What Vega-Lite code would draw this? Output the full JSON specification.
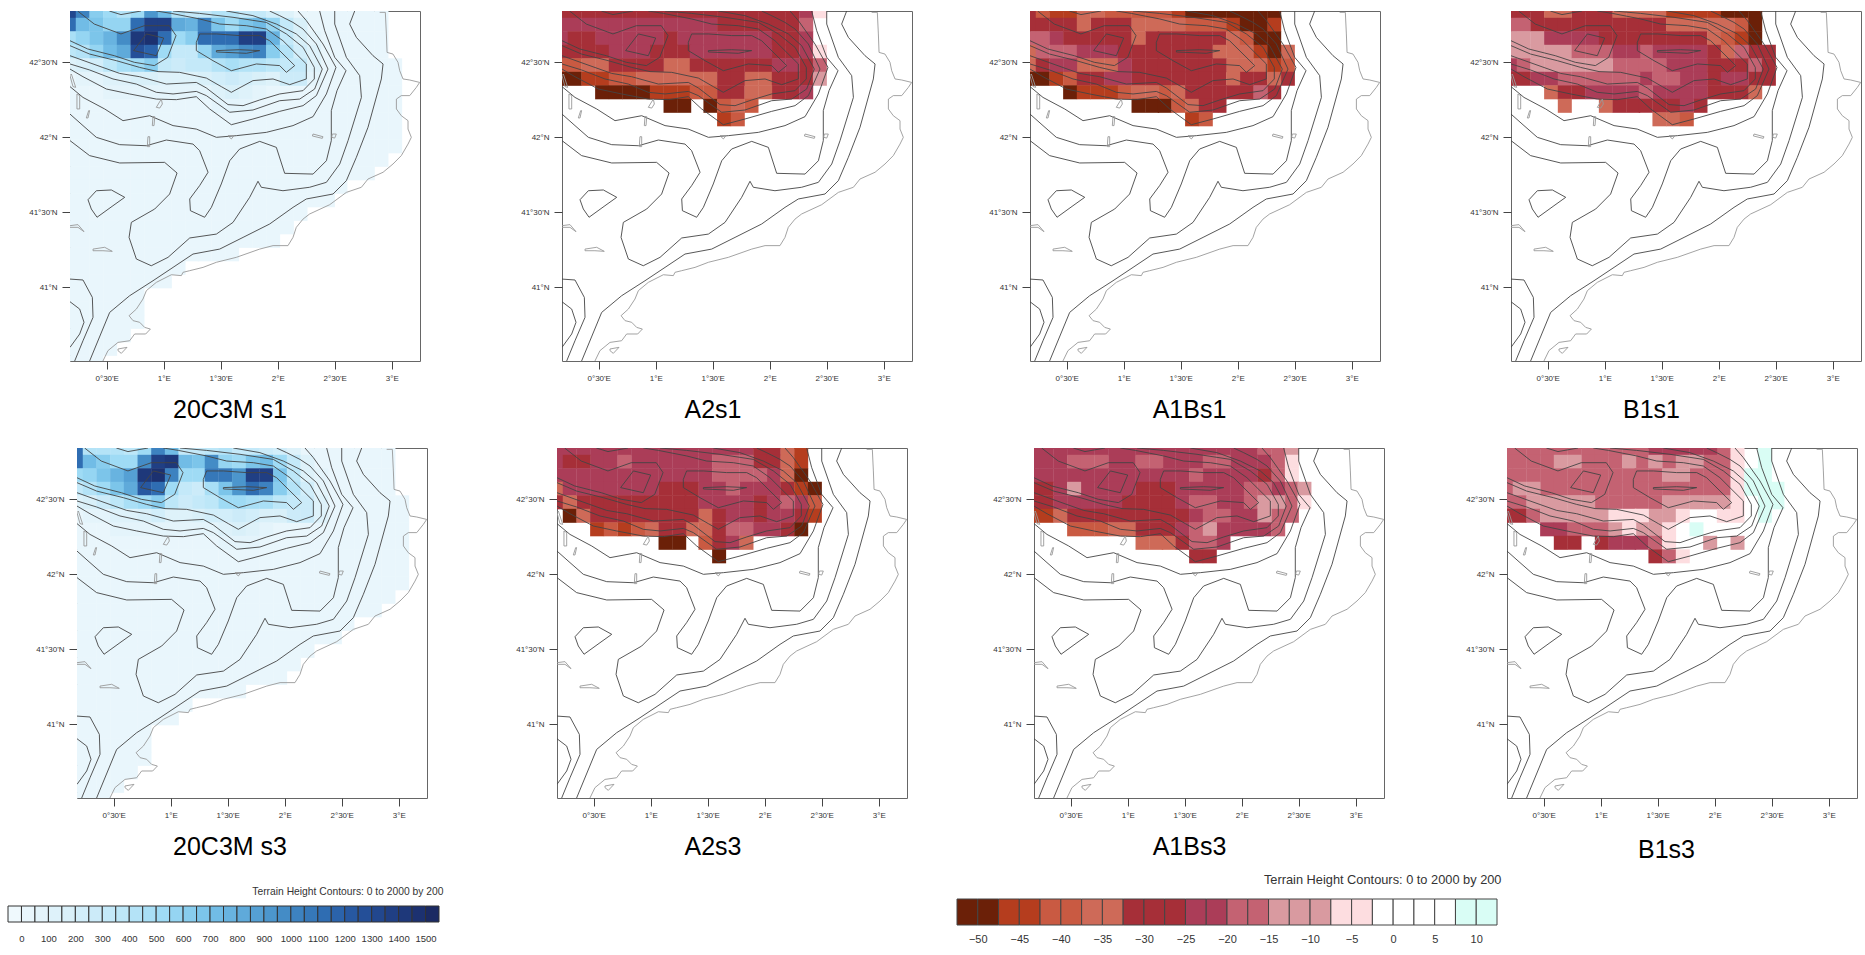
{
"$schema":"https://vega.github.io/schema/vega-lite/v6.json",
"padding":{"left":0,"top":10,"right":0,"bottom":0},
"background":"white",
"config":{"legend":{"disable":true},"view":{"stroke":"#666"},"axis":{"grid":false,"domain":false,"tickColor":"#444","labelColor":"#333","labelFont":"Liberation Sans","labelFontSize":8,"tickSize":8,"labelPadding":5,"titleFont":"Liberation Sans","titleFontSize":25,"titleFontWeight":"normal","titleColor":"#000"}},
"datasets":{
"land":[
{"lat":42.84,"lon":[0.17,0.29,0.41,0.53,0.65,0.77,0.89,1.01,1.13,1.25,1.36,1.48,1.6,1.72,1.84,1.96,2.08,2.2,2.32,2.44,2.55,2.67,2.79,2.91]},
{"lat":42.75,"lon":[0.17,0.29,0.41,0.53,0.65,0.77,0.89,1.01,1.13,1.25,1.36,1.48,1.6,1.72,1.84,1.96,2.08,2.2,2.32,2.44,2.55,2.67,2.79,2.91]},
{"lat":42.66,"lon":[0.17,0.29,0.41,0.53,0.65,0.77,0.89,1.01,1.13,1.25,1.36,1.48,1.6,1.72,1.84,1.96,2.08,2.2,2.32,2.44,2.55,2.67,2.79,2.91]},
{"lat":42.57,"lon":[0.17,0.29,0.41,0.53,0.65,0.77,0.89,1.01,1.13,1.25,1.36,1.48,1.6,1.72,1.84,1.96,2.08,2.2,2.32,2.44,2.55,2.67,2.79,2.91]},
{"lat":42.48,"lon":[0.17,0.29,0.41,0.53,0.65,0.77,0.89,1.01,1.13,1.25,1.36,1.48,1.6,1.72,1.84,1.96,2.08,2.2,2.32,2.44,2.55,2.67,2.79,2.91,3.03]},
{"lat":42.39,"lon":[0.17,0.29,0.41,0.53,0.65,0.77,0.89,1.01,1.13,1.25,1.36,1.48,1.6,1.72,1.84,1.96,2.08,2.2,2.32,2.44,2.55,2.67,2.79,2.91,3.03]},
{"lat":42.3,"lon":[0.17,0.29,0.41,0.53,0.65,0.77,0.89,1.01,1.13,1.25,1.36,1.48,1.6,1.72,1.84,1.96,2.08,2.2,2.32,2.44,2.55,2.67,2.79,2.91,3.03]},
{"lat":42.21,"lon":[0.17,0.29,0.41,0.53,0.65,0.77,0.89,1.01,1.13,1.25,1.36,1.48,1.6,1.72,1.84,1.96,2.08,2.2,2.32,2.44,2.55,2.67,2.79,2.91,3.03]},
{"lat":42.12,"lon":[0.17,0.29,0.41,0.53,0.65,0.77,0.89,1.01,1.13,1.25,1.36,1.48,1.6,1.72,1.84,1.96,2.08,2.2,2.32,2.44,2.55,2.67,2.79,2.91,3.03]},
{"lat":42.03,"lon":[0.17,0.29,0.41,0.53,0.65,0.77,0.89,1.01,1.13,1.25,1.36,1.48,1.6,1.72,1.84,1.96,2.08,2.2,2.32,2.44,2.55,2.67,2.79,2.91,3.03]},
{"lat":41.94,"lon":[0.17,0.29,0.41,0.53,0.65,0.77,0.89,1.01,1.13,1.25,1.36,1.48,1.6,1.72,1.84,1.96,2.08,2.2,2.32,2.44,2.55,2.67,2.79,2.91,3.03]},
{"lat":41.85,"lon":[0.17,0.29,0.41,0.53,0.65,0.77,0.89,1.01,1.13,1.25,1.36,1.48,1.6,1.72,1.84,1.96,2.08,2.2,2.32,2.44,2.55,2.67,2.79,2.91]},
{"lat":41.76,"lon":[0.17,0.29,0.41,0.53,0.65,0.77,0.89,1.01,1.13,1.25,1.36,1.48,1.6,1.72,1.84,1.96,2.08,2.2,2.32,2.44,2.55,2.67,2.79]},
{"lat":41.67,"lon":[0.17,0.29,0.41,0.53,0.65,0.77,0.89,1.01,1.13,1.25,1.36,1.48,1.6,1.72,1.84,1.96,2.08,2.2,2.32,2.44,2.55]},
{"lat":41.58,"lon":[0.17,0.29,0.41,0.53,0.65,0.77,0.89,1.01,1.13,1.25,1.36,1.48,1.6,1.72,1.84,1.96,2.08,2.2,2.32,2.44]},
{"lat":41.49,"lon":[0.17,0.29,0.41,0.53,0.65,0.77,0.89,1.01,1.13,1.25,1.36,1.48,1.6,1.72,1.84,1.96,2.08,2.2]},
{"lat":41.4,"lon":[0.17,0.29,0.41,0.53,0.65,0.77,0.89,1.01,1.13,1.25,1.36,1.48,1.6,1.72,1.84,1.96,2.08]},
{"lat":41.31,"lon":[0.17,0.29,0.41,0.53,0.65,0.77,0.89,1.01,1.13,1.25,1.36,1.48,1.6,1.72,1.84,1.96]},
{"lat":41.22,"lon":[0.17,0.29,0.41,0.53,0.65,0.77,0.89,1.01,1.13,1.25,1.36,1.48,1.6]},
{"lat":41.13,"lon":[0.17,0.29,0.41,0.53,0.65,0.77,0.89,1.01,1.13]},
{"lat":41.04,"lon":[0.17,0.29,0.41,0.53,0.65,0.77,0.89,1.01]},
{"lat":40.95,"lon":[0.17,0.29,0.41,0.53,0.65,0.77]},
{"lat":40.86,"lon":[0.17,0.29,0.41,0.53,0.65,0.77]},
{"lat":40.77,"lon":[0.17,0.29,0.41,0.53,0.65,0.77]},
{"lat":40.68,"lon":[0.17,0.29,0.41,0.53,0.65]},
{"lat":40.59,"lon":[0.17,0.29,0.41,0.53]},
{"lat":40.5,"lon":[0.17,0.29,0.41]}
],
"s1":[
{"lat":42.84,"lon":[0.17,0.29,0.41,0.53,0.65,0.77,0.89,1.01,1.13,1.25,1.36,1.48,1.6,1.72,1.84,1.96,2.08],"v":[1300,1000,600,500,400,500,900,700,400,300,300,400,400,300,300,200,100]},
{"lat":42.75,"lon":[0.17,0.29,0.41,0.53,0.65,0.77,0.89,1.01,1.13,1.25,1.36,1.48,1.6,1.72,1.84,1.96,2.08,2.2],"v":[1100,700,650,550,550,1100,1350,1350,800,750,1000,650,500,650,700,550,300,150]},
{"lat":42.66,"lon":[0.17,0.29,0.41,0.53,0.65,0.77,0.89,1.01,1.13,1.25,1.36,1.48,1.6,1.72,1.84,1.96,2.08,2.2,2.32],"v":[450,550,650,750,950,1400,1450,1100,500,600,1100,1100,1100,1350,1350,750,300,150,50]},
{"lat":42.57,"lon":[0.17,0.29,0.41,0.53,0.65,0.77,0.89,1.01,1.13,1.25,1.36,1.48,1.6,1.72,1.84,1.96,2.08,2.2,2.32],"v":[350,400,550,700,800,1250,1150,500,300,300,550,800,850,950,1000,600,400,200,100]},
{"lat":42.48,"lon":[0.17,0.29,0.41,0.53,0.65,0.77,0.89,1.01,1.13,1.25,1.36,1.48,1.6,1.72,1.84,1.96,2.08,2.2,2.32],"v":[100,150,200,350,450,500,600,300,250,300,300,400,450,400,400,350,300,300,100]},
{"lat":42.39,"lon":[0.29,0.41,0.53,0.65,0.77,0.89,1.01,1.13,1.25,1.36,1.48,1.6,1.72,1.84,1.96,2.08,2.2,2.32],"v":[50,50,100,100,150,150,100,100,100,150,200,250,200,150,100,250,250,50]},
{"lat":42.3,"lon":[0.53,0.65,0.77,0.89,1.01,1.13,1.25,1.36,1.48,1.6,1.72,1.84],"v":[50,50,50,50,50,50,50,50,100,150,100,50]},
{"lat":42.21,"lon":[1.48,1.6,1.72],"v":[50,50,50]}
],
"s3":[
{"lat":42.84,"lon":[0.17,0.29,0.41,0.53,0.65,0.77,0.89,1.01,1.13,1.25,1.36,1.48,1.6,1.72,1.84,1.96,2.08],"v":[1100,400,400,400,350,500,1000,700,300,300,350,400,300,300,250,200,100]},
{"lat":42.75,"lon":[0.17,0.29,0.41,0.53,0.65,0.77,0.89,1.01,1.13,1.25,1.36,1.48,1.6,1.72,1.84,1.96,2.08,2.2],"v":[1100,700,600,500,500,950,1350,1400,700,650,950,550,500,650,700,500,300,100]},
{"lat":42.66,"lon":[0.17,0.29,0.41,0.53,0.65,0.77,0.89,1.01,1.13,1.25,1.36,1.48,1.6,1.72,1.84,1.96,2.08,2.2,2.32],"v":[500,550,650,750,850,1400,1450,1000,500,500,1050,1050,900,1350,1350,650,350,100,50]},
{"lat":42.57,"lon":[0.17,0.29,0.41,0.53,0.65,0.77,0.89,1.01,1.13,1.25,1.36,1.48,1.6,1.72,1.84,1.96,2.08,2.2,2.32],"v":[300,400,500,650,800,1200,1100,500,300,250,450,650,900,1100,1000,600,400,200,50]},
{"lat":42.48,"lon":[0.17,0.29,0.41,0.53,0.65,0.77,0.89,1.01,1.13,1.25,1.36,1.48,1.6,1.72,1.84,1.96,2.08,2.2,2.32],"v":[100,150,250,350,450,500,600,350,250,300,350,500,500,450,450,350,300,250,100]},
{"lat":42.39,"lon":[0.29,0.41,0.53,0.65,0.77,0.89,1.01,1.13,1.25,1.36,1.48,1.6,1.72,1.84,1.96,2.08,2.2,2.32],"v":[50,50,100,100,150,200,100,100,150,200,200,250,200,150,150,250,250,100]},
{"lat":42.3,"lon":[0.53,0.65,0.77,0.89,1.01,1.13,1.25,1.36,1.48,1.6,1.72,1.84],"v":[50,50,50,50,50,50,50,50,100,150,100,50]},
{"lat":42.21,"lon":[1.48,1.6,1.72],"v":[50,50,50]}
],
"a2s1":[
{"lat":42.84,"v":-30,"lon":[0.17,0.29,0.41,0.53,0.65,0.77,0.89,1.01,1.13,1.25,1.36,1.48,1.6,1.72,1.84,1.96,2.08,2.2]},{"lat":42.84,"v":-22.5,"lon":[2.32]},{"lat":42.84,"v":-5,"lon":[2.44]},
{"lat":42.75,"v":-22.5,"lon":[0.17,0.29,0.41,0.53,0.65,0.77,0.89,1.01,1.13,1.25,1.36,1.48]},{"lat":42.75,"v":-30,"lon":[1.6,1.72,1.84,1.96,2.08,2.2]},{"lat":42.75,"v":-15,"lon":[2.32]},
{"lat":42.66,"v":-22.5,"lon":[0.17,0.53,0.65,0.77,0.89,1.01,1.25,1.36,1.48,1.6,1.72,1.84,1.96,2.32]},{"lat":42.66,"v":-30,"lon":[0.29,0.41,1.13,2.08,2.2]},
{"lat":42.57,"v":-30,"lon":[0.17,0.29,0.41,0.53,1.01,1.13,1.25,2.08,2.2]},{"lat":42.57,"v":-22.5,"lon":[0.65,0.77,0.89,1.36,1.48,1.6,1.72,1.84,1.96,2.32]},{"lat":42.57,"v":-5,"lon":[2.44]},
{"lat":42.48,"v":-40,"lon":[0.17,0.29]},{"lat":42.48,"v":-35,"lon":[0.41,0.53,1.13,1.25]},{"lat":42.48,"v":-30,"lon":[0.65,0.77,0.89,1.01,1.36,1.48,1.6,1.72,1.84,1.96,2.32]},{"lat":42.48,"v":-22.5,"lon":[2.08,2.2]},{"lat":42.48,"v":-15,"lon":[2.44]},
{"lat":42.39,"v":-50,"lon":[0.17,0.29]},{"lat":42.39,"v":-45,"lon":[0.41,0.53]},{"lat":42.39,"v":-40,"lon":[0.65,0.77]},{"lat":42.39,"v":-35,"lon":[0.89,1.01,1.13,1.25,1.36,1.48,1.84,1.96]},{"lat":42.39,"v":-30,"lon":[1.6,1.72,2.08,2.2,2.32]},{"lat":42.39,"v":-10,"lon":[2.44]},
{"lat":42.3,"v":-50,"lon":[0.53,0.65,0.77,0.89]},{"lat":42.3,"v":-45,"lon":[1.01,1.13,1.25]},{"lat":42.3,"v":-40,"lon":[1.36,1.48]},{"lat":42.3,"v":-30,"lon":[1.6,1.72,2.08,2.2]},{"lat":42.3,"v":-35,"lon":[1.84,1.96]},{"lat":42.3,"v":-22.5,"lon":[2.32]},
{"lat":42.21,"v":-50,"lon":[1.13,1.25,1.48]},{"lat":42.21,"v":-40,"lon":[1.6,1.84]},{"lat":42.21,"v":-35,"lon":[1.72]},
{"lat":42.12,"v":-45,"lon":[1.6]},{"lat":42.12,"v":-40,"lon":[1.72]}
],
"a1bs1":[
{"lat":42.84,"v":-30,"lon":[0.17]},{"lat":42.84,"v":-40,"lon":[0.29,0.89,1.01,1.13,1.25,1.36]},{"lat":42.84,"v":-45,"lon":[0.41,0.53,1.48]},{"lat":42.84,"v":-35,"lon":[0.65,0.77]},{"lat":42.84,"v":-50,"lon":[1.6,1.72,1.84,1.96,2.08,2.2,2.32]},
{"lat":42.75,"v":-30,"lon":[0.17,0.29,0.41,0.53,0.77,0.89,1.01]},{"lat":42.75,"v":-35,"lon":[0.65,1.13,1.25,1.36,1.48]},{"lat":42.75,"v":-40,"lon":[1.6,1.72,1.84]},{"lat":42.75,"v":-45,"lon":[1.96,2.32]},{"lat":42.75,"v":-50,"lon":[2.08,2.2]},
{"lat":42.66,"v":-15,"lon":[0.17,0.29]},{"lat":42.66,"v":-22.5,"lon":[0.41]},{"lat":42.66,"v":-30,"lon":[0.53,0.65,0.77,0.89,1.01,1.25,1.36,1.48,1.6,1.72,1.84]},{"lat":42.66,"v":-35,"lon":[1.13,1.96]},{"lat":42.66,"v":-40,"lon":[2.08]},{"lat":42.66,"v":-50,"lon":[2.2,2.32]},
{"lat":42.57,"v":-35,"lon":[0.17,1.84,1.96,2.08,2.44]},{"lat":42.57,"v":-15,"lon":[0.29,0.41,0.53]},{"lat":42.57,"v":-22.5,"lon":[0.65,0.77,0.89]},{"lat":42.57,"v":-30,"lon":[1.01,1.13,1.25,1.36,1.48,1.6,1.72]},{"lat":42.57,"v":-45,"lon":[2.2]},{"lat":42.57,"v":-50,"lon":[2.32]},
{"lat":42.48,"v":-35,"lon":[0.17,0.65,0.77,0.89,1.96,2.08,2.2]},{"lat":42.48,"v":-30,"lon":[0.29,1.13,1.25,1.36,1.48,1.6,1.72,1.84]},{"lat":42.48,"v":-22.5,"lon":[0.41,0.53,1.01]},{"lat":42.48,"v":-45,"lon":[2.32]},{"lat":42.48,"v":-40,"lon":[2.44]},
{"lat":42.39,"v":-50,"lon":[0.17,0.29]},{"lat":42.39,"v":-45,"lon":[0.41]},{"lat":42.39,"v":-40,"lon":[0.53]},{"lat":42.39,"v":-30,"lon":[0.65,0.77,1.13,1.25,1.36,1.48,1.6,1.72,1.84,2.08,2.2,2.44]},{"lat":42.39,"v":-22.5,"lon":[0.89,1.01]},{"lat":42.39,"v":-35,"lon":[1.96,2.32]},
{"lat":42.3,"v":-50,"lon":[0.53]},{"lat":42.3,"v":-45,"lon":[0.65,0.77,0.89]},{"lat":42.3,"v":-40,"lon":[1.01,1.36]},{"lat":42.3,"v":-35,"lon":[1.13,1.25,1.48]},{"lat":42.3,"v":-30,"lon":[1.6,1.72,1.84,1.96,2.08,2.32]},{"lat":42.3,"v":-15,"lon":[2.2]},
{"lat":42.21,"v":-50,"lon":[1.13,1.25,1.36]},{"lat":42.21,"v":-40,"lon":[1.48]},{"lat":42.21,"v":-35,"lon":[1.6]},{"lat":42.21,"v":-30,"lon":[1.72,1.84]},
{"lat":42.12,"v":-45,"lon":[1.6]},{"lat":42.12,"v":-40,"lon":[1.72]}
],
"b1s1":[
{"lat":42.84,"v":-30,"lon":[0.17,0.29,0.41,0.77,0.89,1.01]},{"lat":42.84,"v":-35,"lon":[0.53,0.65,1.13,1.25,1.36,1.48]},{"lat":42.84,"v":-45,"lon":[1.6,1.72,1.84,1.96]},{"lat":42.84,"v":-50,"lon":[2.08,2.2,2.32]},
{"lat":42.75,"v":-15,"lon":[0.17,0.29]},{"lat":42.75,"v":-30,"lon":[0.41,0.53,0.65,0.77,0.89,1.01,1.13,1.25,1.36,1.48]},{"lat":42.75,"v":-35,"lon":[1.6,1.72,1.84,1.96,2.08]},{"lat":42.75,"v":-40,"lon":[2.2]},{"lat":42.75,"v":-50,"lon":[2.32]},
{"lat":42.66,"v":-10,"lon":[0.17,0.29,0.41]},{"lat":42.66,"v":-22.5,"lon":[0.53,0.65,0.77,0.89]},{"lat":42.66,"v":-30,"lon":[1.01,1.13,1.25,1.36,1.48,1.6,1.72,1.84]},{"lat":42.66,"v":-35,"lon":[1.96]},{"lat":42.66,"v":-40,"lon":[2.08]},{"lat":42.66,"v":-45,"lon":[2.2]},{"lat":42.66,"v":-50,"lon":[2.32]},
{"lat":42.57,"v":-10,"lon":[0.17,0.29,0.41,0.53,0.65]},{"lat":42.57,"v":-15,"lon":[0.77,0.89,1.01,1.36]},{"lat":42.57,"v":-22.5,"lon":[1.13,1.25,1.48,1.6,1.72,1.84]},{"lat":42.57,"v":-30,"lon":[1.96,2.32,2.44]},{"lat":42.57,"v":-35,"lon":[2.08]},{"lat":42.57,"v":-15,"lon":[2.2]},
{"lat":42.48,"v":-22.5,"lon":[0.17,1.6,1.72,1.84]},{"lat":42.48,"v":-15,"lon":[0.29,1.13,1.25,1.36,1.48,2.32]},{"lat":42.48,"v":-10,"lon":[0.41,0.53,0.65,0.77,0.89,1.01]},{"lat":42.48,"v":-30,"lon":[1.96,2.08,2.2,2.44]},
{"lat":42.39,"v":-30,"lon":[0.17,0.29,1.96,2.32,2.44]},{"lat":42.39,"v":-22.5,"lon":[0.41,0.53,1.36,1.72,1.84,2.08,2.2]},{"lat":42.39,"v":-15,"lon":[0.65,0.77,0.89,1.01,1.13,1.25,1.48,1.6]},
{"lat":42.3,"v":-35,"lon":[0.53,2.32]},{"lat":42.3,"v":-30,"lon":[0.65,0.77,1.96,2.08,2.2]},{"lat":42.3,"v":-22.5,"lon":[0.89,1.01,1.13,1.25,1.48,1.6,1.72,1.84]},{"lat":42.3,"v":-15,"lon":[1.36]},
{"lat":42.21,"v":-35,"lon":[0.65,1.01]},{"lat":42.21,"v":-30,"lon":[1.13,1.25,1.36,1.48,1.6,1.84]},{"lat":42.21,"v":-22.5,"lon":[1.72]},
{"lat":42.12,"v":-35,"lon":[1.48,1.6]},{"lat":42.12,"v":-40,"lon":[1.72]}
],
"a2s3":[
{"lat":42.84,"v":-22.5,"lon":[0.17,0.29,0.41,0.53,0.65,0.77,0.89,1.01,1.13,1.25,1.36,1.48,1.6,1.72,1.84]},{"lat":42.84,"v":-30,"lon":[1.96,2.08]},{"lat":42.84,"v":-35,"lon":[2.2]},{"lat":42.84,"v":-45,"lon":[2.32]},
{"lat":42.75,"v":-22.5,"lon":[0.17,0.53,0.65,0.89,1.01,1.13,1.25,1.36,1.48]},{"lat":42.75,"v":-30,"lon":[0.29,0.41,1.96,2.08]},{"lat":42.75,"v":-15,"lon":[0.77,1.6,1.72,1.84]},{"lat":42.75,"v":-35,"lon":[2.2]},{"lat":42.75,"v":-45,"lon":[2.32]},
{"lat":42.66,"v":-22.5,"lon":[0.17,0.29,0.41,0.53,0.65,0.77,0.89,1.01,1.13,1.25,1.36,1.48,2.08]},{"lat":42.66,"v":-15,"lon":[1.6,1.72,1.84,1.96]},{"lat":42.66,"v":-35,"lon":[2.2]},{"lat":42.66,"v":-50,"lon":[2.32]},
{"lat":42.57,"v":-35,"lon":[0.17]},{"lat":42.57,"v":-22.5,"lon":[0.29,0.41,0.53,0.65,0.77,0.89,1.01,1.48,1.6,1.84,1.96,2.08]},{"lat":42.57,"v":-30,"lon":[1.13,1.25,1.36,2.2]},{"lat":42.57,"v":-15,"lon":[1.72]},{"lat":42.57,"v":-45,"lon":[2.32]},{"lat":42.57,"v":-50,"lon":[2.44]},
{"lat":42.48,"v":-30,"lon":[0.17,0.41,0.53,0.65,0.77,0.89,1.01,1.13,1.25,1.36,1.96]},{"lat":42.48,"v":-35,"lon":[0.29]},{"lat":42.48,"v":-22.5,"lon":[1.48,1.6,1.72,1.84,2.08,2.32]},{"lat":42.48,"v":-15,"lon":[2.2]},{"lat":42.48,"v":-40,"lon":[2.44]},
{"lat":42.39,"v":-50,"lon":[0.29]},{"lat":42.39,"v":-35,"lon":[0.41,1.48]},{"lat":42.39,"v":-30,"lon":[0.53,0.65,0.77,0.89,1.01,1.13,1.25,1.36,1.6,1.96,2.32]},{"lat":42.39,"v":-22.5,"lon":[1.72,1.84,2.08,2.2]},{"lat":42.39,"v":-45,"lon":[2.44]},
{"lat":42.3,"v":-45,"lon":[0.53,0.77]},{"lat":42.3,"v":-40,"lon":[0.65,0.89]},{"lat":42.3,"v":-35,"lon":[1.01,1.36,1.48]},{"lat":42.3,"v":-30,"lon":[1.13,1.25,1.6,2.2]},{"lat":42.3,"v":-15,"lon":[1.72,1.84]},{"lat":42.3,"v":-22.5,"lon":[1.96,2.08]},{"lat":42.3,"v":-50,"lon":[2.32]},
{"lat":42.21,"v":-50,"lon":[1.13,1.25]},{"lat":42.21,"v":-40,"lon":[1.48]},{"lat":42.21,"v":-30,"lon":[1.6]},{"lat":42.21,"v":-22.5,"lon":[1.72]},{"lat":42.21,"v":-35,"lon":[1.84]},
{"lat":42.12,"v":-50,"lon":[1.6]}
],
"a1bs3":[
{"lat":42.84,"v":-22.5,"lon":[0.17,0.29,0.41,0.53,0.65,0.77,0.89,1.01,1.13,1.25,1.36,1.48,1.6,1.72,1.84,1.96,2.08]},{"lat":42.84,"v":-15,"lon":[2.2,2.32]},{"lat":42.84,"v":-10,"lon":[2.44]},
{"lat":42.75,"v":-22.5,"lon":[0.17,0.29,0.41,0.89,1.01,1.36,1.48,1.6,1.96,2.08,2.2]},{"lat":42.75,"v":-15,"lon":[0.53,0.65,0.77,1.13,1.25,1.72,1.84,2.32]},{"lat":42.75,"v":-5,"lon":[2.44]},
{"lat":42.66,"v":-22.5,"lon":[0.17,0.29,0.41,0.53,0.65,0.77,0.89,1.01,1.13,1.25,1.36,1.48,1.72,1.84,1.96,2.08]},{"lat":42.66,"v":-15,"lon":[1.6,2.32]},{"lat":42.66,"v":-30,"lon":[2.2]},{"lat":42.66,"v":-5,"lon":[2.44]},
{"lat":42.57,"v":-30,"lon":[0.17,0.29,1.13,1.25,1.36]},{"lat":42.57,"v":-22.5,"lon":[0.41,0.65,0.77,0.89,1.01,1.48,1.6,1.72,1.84,1.96,2.32]},{"lat":42.57,"v":-10,"lon":[0.53]},{"lat":42.57,"v":-15,"lon":[2.08,2.2,2.44]},{"lat":42.57,"v":-10,"lon":[2.55]},
{"lat":42.48,"v":-30,"lon":[0.17,0.29,1.01,1.13,1.25,1.36]},{"lat":42.48,"v":-22.5,"lon":[0.41,0.53,0.65,0.77,0.89,1.48,1.84,1.96]},{"lat":42.48,"v":-15,"lon":[1.6,1.72,2.08,2.44]},{"lat":42.48,"v":-10,"lon":[2.2,2.32]},{"lat":42.48,"v":-5,"lon":[2.55]},
{"lat":42.39,"v":-45,"lon":[0.17,0.29]},{"lat":42.39,"v":-35,"lon":[0.41]},{"lat":42.39,"v":-30,"lon":[0.53,0.65,0.77,0.89,1.01,1.13,1.25,1.36,1.48]},{"lat":42.39,"v":-22.5,"lon":[1.6,1.96,2.08]},{"lat":42.39,"v":-15,"lon":[1.72,1.84,2.32,2.44]},{"lat":42.39,"v":-10,"lon":[2.2]},
{"lat":42.3,"v":-40,"lon":[0.53,0.65,0.77]},{"lat":42.3,"v":-35,"lon":[0.89,1.01]},{"lat":42.3,"v":-30,"lon":[1.13,1.25,1.36]},{"lat":42.3,"v":-22.5,"lon":[1.48,1.84,1.96,2.08,2.2]},{"lat":42.3,"v":-15,"lon":[1.6,2.32]},{"lat":42.3,"v":-10,"lon":[1.72]},
{"lat":42.21,"v":-35,"lon":[1.13,1.25,1.36]},{"lat":42.21,"v":-30,"lon":[1.48]},{"lat":42.21,"v":-15,"lon":[1.6,1.72]},{"lat":42.21,"v":-22.5,"lon":[1.84]},
{"lat":42.12,"v":-30,"lon":[1.6,1.72]}
],
"b1s3":[
{"lat":42.84,"v":-15,"lon":[0.17,0.29,0.41,0.53,0.65,0.77,0.89,1.01,1.13,1.25,1.36,2.08]},{"lat":42.84,"v":-22.5,"lon":[1.48,1.6,1.72,1.84,1.96]},{"lat":42.84,"v":-5,"lon":[2.2]},{"lat":42.84,"v":10,"lon":[2.44]},
{"lat":42.75,"v":-15,"lon":[0.17,0.29,0.41,0.53,0.89,1.01,1.13,1.36,1.6,1.96,2.08]},{"lat":42.75,"v":-10,"lon":[0.65,0.77,1.25,1.48,1.72,1.84]},{"lat":42.75,"v":-5,"lon":[2.2]},{"lat":42.75,"v":10,"lon":[2.44]},
{"lat":42.66,"v":-15,"lon":[0.17,0.29,0.41,0.53,0.65,0.77,0.89,1.01,1.13,1.25,1.36,1.48,1.84,1.96,2.08]},{"lat":42.66,"v":-10,"lon":[1.6,1.72]},{"lat":42.66,"v":-5,"lon":[2.2]},{"lat":42.66,"v":10,"lon":[2.32,2.44]},
{"lat":42.57,"v":-15,"lon":[0.17,0.53,0.65,0.77,0.89,1.01,1.13,1.25,1.36,1.48,1.6,1.72,1.84,1.96,2.08]},{"lat":42.57,"v":-10,"lon":[0.29,0.41]},{"lat":42.57,"v":-5,"lon":[2.2]},{"lat":42.57,"v":10,"lon":[2.32,2.44,2.55]},
{"lat":42.48,"v":-15,"lon":[0.17,0.29,1.01,1.13,1.25,1.36,1.48]},{"lat":42.48,"v":-10,"lon":[0.41,0.53,0.65,0.77,0.89,1.6,1.72,1.84,1.96,2.08]},{"lat":42.48,"v":-5,"lon":[2.2]},{"lat":42.48,"v":10,"lon":[2.44,2.55]},
{"lat":42.39,"v":-30,"lon":[0.17,0.29]},{"lat":42.39,"v":-15,"lon":[0.41]},{"lat":42.39,"v":-10,"lon":[0.53,0.65,0.77,0.89,1.01,1.48,1.6]},{"lat":42.39,"v":-5,"lon":[1.13,1.25,1.36,1.72,2.08,2.2]},{"lat":42.39,"v":10,"lon":[2.44]},
{"lat":42.3,"v":-22.5,"lon":[0.53,0.65]},{"lat":42.3,"v":-15,"lon":[0.77,0.89,1.01]},{"lat":42.3,"v":-10,"lon":[1.13,1.36,1.48]},{"lat":42.3,"v":-5,"lon":[1.25,1.6]},{"lat":42.3,"v":10,"lon":[1.84]},
{"lat":42.21,"v":-30,"lon":[0.65,0.77,1.01]},{"lat":42.21,"v":-22.5,"lon":[1.13,1.25,1.36]},{"lat":42.21,"v":-15,"lon":[1.48]},{"lat":42.21,"v":-5,"lon":[1.6]},{"lat":42.21,"v":-10,"lon":[1.96,2.2]},
{"lat":42.12,"v":-30,"lon":[1.48]},{"lat":42.12,"v":-15,"lon":[1.6]},{"lat":42.12,"v":-5,"lon":[1.72]}
],
"contours":[
{"id":1,"lon":[0.35,0.526,0.701,0.906,1.082,1.257,1.491,1.696,1.929,2.134,2.251,2.485,2.602,2.69,2.792,2.909,2.924,2.836,2.69,2.631,2.675],"lat":[40.509,40.833,40.944,41.044,41.133,41.222,41.255,41.333,41.422,41.533,41.589,41.622,41.711,41.867,42.067,42.389,42.489,42.544,42.666,42.755,42.842]},
{"id":2,"lon":[0.178,0.292,0.374,0.38,0.292,0.219],"lat":[41.055,41.049,40.933,40.8,40.644,40.509]},
{"id":3,"lon":[0.178,0.263,0.301,0.263,0.178],"lat":[40.904,40.855,40.767,40.689,40.6]},
{"id":4,"lon":[0.178,0.35,0.614,1.008,1.117,1.052,0.921,0.716,0.696,0.76,0.891,1.038,1.228,1.462,1.608,1.754,1.827,1.856,2.046,2.28,2.427,2.544,2.617,2.734,2.719,2.602,2.5,2.5],"lat":[41.978,41.878,41.829,41.833,41.762,41.622,41.522,41.433,41.333,41.189,41.144,41.2,41.329,41.355,41.433,41.6,41.707,41.667,41.644,41.667,41.7,41.822,41.978,42.266,42.411,42.533,42.755,42.842]},
{"id":5,"lon":[0.336,0.409,0.541,0.658,0.555,0.415,0.365,0.336],"lat":[41.584,41.644,41.649,41.6,41.544,41.467,41.522,41.584]},
{"id":6,"lon":[0.178,0.292,0.409,0.614,0.848,1.023,1.257,1.315,1.389,1.315,1.228,1.234,1.359,1.418,1.505,1.579,1.666,1.842,1.988,2.061,2.31,2.427,2.47,2.47,2.52,2.599,2.5,2.412,2.368],"lat":[42.155,42.078,42.0,41.951,41.944,41.982,41.955,41.911,41.767,41.678,41.589,41.511,41.467,41.533,41.689,41.844,41.922,41.973,41.933,41.76,41.755,41.844,41.978,42.178,42.311,42.444,42.533,42.711,42.842]},
{"id":7,"lon":[0.178,0.292,0.482,0.643,0.877,1.082,1.286,1.462,1.637,1.9,2.134,2.31,2.427,2.511,2.397,2.251,2.178],"lat":[42.338,42.266,42.189,42.111,42.144,42.078,42.055,42.0,42.011,42.033,42.078,42.138,42.289,42.466,42.622,42.778,42.842]},
{"id":8,"lon":[0.178,0.292,0.497,0.701,0.935,1.111,1.286,1.403,1.593,1.783,2.017,2.222,2.339,2.441,2.339,2.222,2.134,2.017,1.929],"lat":[42.455,42.404,42.322,42.289,42.255,42.251,42.271,42.189,42.084,42.122,42.173,42.211,42.278,42.455,42.622,42.722,42.766,42.811,42.842]},
{"id":9,"lon":[0.178,0.35,0.555,0.76,0.935,1.082,1.286,1.374,1.579,1.783,2.017,2.193,2.324,2.391,2.28,2.163,1.988,1.783,1.549],"lat":[42.489,42.449,42.389,42.355,42.3,42.289,42.306,42.278,42.167,42.182,42.244,42.255,42.322,42.455,42.611,42.689,42.755,42.811,42.842]},
{"id":10,"lon":[0.178,0.38,0.614,0.789,1.023,1.286,1.374,1.564,1.696,1.842,2.017,2.222,2.321,2.321,2.222,2.076,1.9,1.608,1.315,1.082],"lat":[42.544,42.489,42.426,42.404,42.355,42.366,42.329,42.218,42.211,42.249,42.289,42.311,42.389,42.466,42.6,42.689,42.766,42.8,42.826,42.842]},
{"id":11,"lon":[0.178,0.35,0.584,0.789,0.95,1.14,1.374,1.505,1.593,1.783,1.959,2.105,2.251,2.251,2.046,1.9,1.725,1.491,1.315,1.067,0.935],"lat":[42.611,42.555,42.511,42.466,42.438,42.433,42.395,42.338,42.3,42.378,42.389,42.351,42.389,42.489,42.644,42.722,42.744,42.755,42.789,42.826,42.842]},
{"id":12,"lon":[1.286,1.315,1.462,1.666,1.842,1.929,2.149,2.076,2.017,1.813,1.593,1.432,1.286,1.286],"lat":[42.633,42.689,42.689,42.678,42.678,42.644,42.478,42.433,42.478,42.489,42.444,42.511,42.578,42.633]},
{"id":13,"lon":[1.462,1.666,1.842,1.725,1.462,1.462],"lat":[42.578,42.584,42.578,42.56,42.569,42.578]},
{"id":14,"lon":[0.736,0.848,1.0,0.935,0.736],"lat":[42.578,42.689,42.662,42.544,42.578]},
{"id":15,"lon":[0.245,0.391,0.625,0.83,1.049,1.108,1.035,0.918,0.742,0.567,0.333,0.178],"lat":[42.842,42.755,42.689,42.744,42.744,42.678,42.533,42.478,42.5,42.544,42.589,42.644]},
{"id":16,"lon":[0.523,0.625,0.801],"lat":[42.842,42.818,42.842]}
],
"coast":[
{"id":1,"lon":[0.467,0.511,0.599,0.701,0.745,0.842,0.883,0.833,0.789,0.731,0.696,0.76,0.818,0.848,0.935,1.067,1.155,1.169,1.228,1.345,1.462,1.637,1.842,1.959,2.09,2.134,2.163,2.222,2.28,2.456,2.602,2.734,2.792,2.924,3.011,3.084,3.143,3.172,3.143,3.143,3.084,3.041,3.041,3.084,3.158,3.216,3.245,3.158,3.099,3.07,3.055,3.011,2.959,2.953,2.944,2.894],"lat":[40.509,40.578,40.633,40.644,40.689,40.689,40.722,40.733,40.767,40.778,40.811,40.855,40.922,40.978,41.033,41.084,41.078,41.1,41.111,41.133,41.167,41.2,41.255,41.278,41.278,41.333,41.4,41.455,41.489,41.551,41.633,41.667,41.722,41.767,41.822,41.878,41.955,42.0,42.055,42.111,42.144,42.189,42.255,42.278,42.278,42.333,42.366,42.382,42.389,42.444,42.5,42.555,42.566,42.689,42.833,42.833]},
{"id":2,"lon":[0.19,0.228,0.204,0.178,0.19],"lat":[42.422,42.333,42.338,42.411,42.422]},
{"id":3,"lon":[0.239,0.263,0.263,0.239,0.239],"lat":[42.289,42.278,42.189,42.189,42.289]},
{"id":4,"lon":[0.342,0.321,0.336,0.35,0.342],"lat":[42.178,42.129,42.129,42.178,42.178]},
{"id":5,"lon":[0.979,0.935,0.965,0.988,0.979],"lat":[42.255,42.2,42.195,42.222,42.255]},
{"id":6,"lon":[0.906,0.9,0.915,0.921,0.906],"lat":[42.138,42.078,42.078,42.138,42.138]},
{"id":7,"lon":[0.862,0.856,0.877,0.877,0.862],"lat":[42.004,41.938,41.938,42.004,42.004]},
{"id":8,"lon":[1.564,1.617,1.593,1.564],"lat":[42.011,42.011,41.989,42.011]},
{"id":9,"lon":[2.31,2.397,2.391,2.304,2.31],"lat":[42.022,42.004,41.993,42.009,42.022]},
{"id":10,"lon":[2.479,2.514,2.5,2.473,2.479],"lat":[42.022,42.022,41.995,42.0,42.022]},
{"id":11,"lon":[0.178,0.248,0.301,0.248,0.178],"lat":[41.411,41.418,41.371,41.4,41.4]},
{"id":12,"lon":[0.38,0.482,0.549,0.467,0.38,0.38],"lat":[41.255,41.267,41.24,41.244,41.244,41.255]},
{"id":13,"lon":[0.599,0.678,0.628,0.599,0.599],"lat":[40.589,40.6,40.56,40.578,40.589]}
]
},
"spacing":0,
"vconcat":[
{"spacing":0,"bounds":"flush","hconcat":[
{"width":70,"height":436,"data":{"values":[{"a":0}]},"mark":{"type":"rect","opacity":0},"encoding":{},"view":{"stroke":null}},
{"width":350,"height":350,"encoding":{"x":{"field":"lon","type":"quantitative","scale":{"domain":[0.178,3.248],"nice":false,"zero":false},"axis":{"values":[0.5,1,1.5,2,2.5,3],"labelExpr":"datum.value%1==0?datum.value+'°E':floor(datum.value)+'°30\\'E'","title":"20C3M s1","titleX":159.5,"titleY":48.5,"titleBaseline":"middle","titleAlign":"center"}},"y":{"field":"lat","type":"quantitative","scale":{"domain":[40.509,42.842],"nice":false,"zero":false},"axis":{"values":[41,41.5,42,42.5],"labelExpr":"datum.value%1==0?datum.value+'°N':floor(datum.value)+'°30\\'N'","title":null}}},"layer":[
{"data":{"name":"land"},"transform":[{"flatten":["lon"]}],"mark":{"type":"rect","width":14,"height":14,"clip":true,"color":"#e9f6fc"}},
{"data":{"name":"s1"},"transform":[{"flatten":["lon","v"]}],"mark":{"type":"rect","width":14,"height":14,"clip":true},"encoding":{"color":{"field":"v","type":"ordinal","scale":{"domain":[-50,0,50,100,150,200,250,300,350,400,450,500,550,600,650,700,750,800,850,900,950,1000,1050,1100,1150,1200,1250,1300,1350,1400,1450,1500],"range":["#eff9fd","#e9f6fc","#e4f4fb","#def2fa","#d9f0f9","#d2eefa","#ccebf9","#c4e9f9","#bde7f8","#b4e3f7","#a9dff6","#9fdbf5","#95d5f2","#88cdee","#7cc5ea","#71bce6","#68b3e0","#5faada","#55a0d4","#4c96cd","#448cc6","#3d82c0","#3678b9","#2f6db2","#2b63ab","#2758a1","#244f98","#22478e","#203f84","#1e387a","#1c3170","#1b2a63"]}}}},
{"data":{"name":"contours"},"transform":[{"flatten":["lon","lat"]},{"window":[{"op":"row_number","as":"i"}]}],"mark":{"type":"line","clip":true,"color":"#444","strokeWidth":0.9},"encoding":{"detail":{"field":"id"},"order":{"field":"i"}}},
{"data":{"name":"coast"},"transform":[{"flatten":["lon","lat"]},{"window":[{"op":"row_number","as":"i"}]}],"mark":{"type":"line","clip":true,"color":"#999","strokeWidth":0.9},"encoding":{"detail":{"field":"id"},"order":{"field":"i"}}}
]},
{"width":142,"height":1,"data":{"values":[{"a":0}]},"mark":{"type":"rect","opacity":0},"encoding":{},"view":{"stroke":null}},
{"width":350,"height":350,"encoding":{"x":{"field":"lon","type":"quantitative","scale":{"domain":[0.178,3.248],"nice":false,"zero":false},"axis":{"values":[0.5,1,1.5,2,2.5,3],"labelExpr":"datum.value%1==0?datum.value+'°E':floor(datum.value)+'°30\\'E'","title":"A2s1","titleX":150.5,"titleY":48.5,"titleBaseline":"middle","titleAlign":"center"}},"y":{"field":"lat","type":"quantitative","scale":{"domain":[40.509,42.842],"nice":false,"zero":false},"axis":{"values":[41,41.5,42,42.5],"labelExpr":"datum.value%1==0?datum.value+'°N':floor(datum.value)+'°30\\'N'","title":null}}},"layer":[
{"data":{"name":"a2s1"},"transform":[{"flatten":["lon"]}],"mark":{"type":"rect","width":14,"height":14,"clip":true},"encoding":{"fill":{"field":"v","type":"ordinal","scale":{"domain":[-50,-45,-40,-35,-30,-22.5,-15,-10,-5,0,10],"range":["#6b2008","#b53d1e","#c95a42","#ce6a58","#a62f38","#ab3d58","#c46272","#d99aa0","#fddde0","#ffffff","#d9fdf5"]}}}},
{"data":{"name":"contours"},"transform":[{"flatten":["lon","lat"]},{"window":[{"op":"row_number","as":"i"}]}],"mark":{"type":"line","clip":true,"color":"#444","strokeWidth":0.9},"encoding":{"detail":{"field":"id"},"order":{"field":"i"}}},
{"data":{"name":"coast"},"transform":[{"flatten":["lon","lat"]},{"window":[{"op":"row_number","as":"i"}]}],"mark":{"type":"line","clip":true,"color":"#999","strokeWidth":0.9},"encoding":{"detail":{"field":"id"},"order":{"field":"i"}}}
]},
{"width":118,"height":1,"data":{"values":[{"a":0}]},"mark":{"type":"rect","opacity":0},"encoding":{},"view":{"stroke":null}},
{"width":350,"height":350,"encoding":{"x":{"field":"lon","type":"quantitative","scale":{"domain":[0.178,3.248],"nice":false,"zero":false},"axis":{"values":[0.5,1,1.5,2,2.5,3],"labelExpr":"datum.value%1==0?datum.value+'°E':floor(datum.value)+'°30\\'E'","title":"A1Bs1","titleX":159,"titleY":48.5,"titleBaseline":"middle","titleAlign":"center"}},"y":{"field":"lat","type":"quantitative","scale":{"domain":[40.509,42.842],"nice":false,"zero":false},"axis":{"values":[41,41.5,42,42.5],"labelExpr":"datum.value%1==0?datum.value+'°N':floor(datum.value)+'°30\\'N'","title":null}}},"layer":[
{"data":{"name":"a1bs1"},"transform":[{"flatten":["lon"]}],"mark":{"type":"rect","width":14,"height":14,"clip":true},"encoding":{"fill":{"field":"v","type":"ordinal","scale":{"domain":[-50,-45,-40,-35,-30,-22.5,-15,-10,-5,0,10],"range":["#6b2008","#b53d1e","#c95a42","#ce6a58","#a62f38","#ab3d58","#c46272","#d99aa0","#fddde0","#ffffff","#d9fdf5"]}}}},
{"data":{"name":"contours"},"transform":[{"flatten":["lon","lat"]},{"window":[{"op":"row_number","as":"i"}]}],"mark":{"type":"line","clip":true,"color":"#444","strokeWidth":0.9},"encoding":{"detail":{"field":"id"},"order":{"field":"i"}}},
{"data":{"name":"coast"},"transform":[{"flatten":["lon","lat"]},{"window":[{"op":"row_number","as":"i"}]}],"mark":{"type":"line","clip":true,"color":"#999","strokeWidth":0.9},"encoding":{"detail":{"field":"id"},"order":{"field":"i"}}}
]},
{"width":131,"height":1,"data":{"values":[{"a":0}]},"mark":{"type":"rect","opacity":0},"encoding":{},"view":{"stroke":null}},
{"width":350,"height":350,"encoding":{"x":{"field":"lon","type":"quantitative","scale":{"domain":[0.178,3.248],"nice":false,"zero":false},"axis":{"values":[0.5,1,1.5,2,2.5,3],"labelExpr":"datum.value%1==0?datum.value+'°E':floor(datum.value)+'°30\\'E'","title":"B1s1","titleX":140,"titleY":48.5,"titleBaseline":"middle","titleAlign":"center"}},"y":{"field":"lat","type":"quantitative","scale":{"domain":[40.509,42.842],"nice":false,"zero":false},"axis":{"values":[41,41.5,42,42.5],"labelExpr":"datum.value%1==0?datum.value+'°N':floor(datum.value)+'°30\\'N'","title":null}}},"layer":[
{"data":{"name":"b1s1"},"transform":[{"flatten":["lon"]}],"mark":{"type":"rect","width":14,"height":14,"clip":true},"encoding":{"fill":{"field":"v","type":"ordinal","scale":{"domain":[-50,-45,-40,-35,-30,-22.5,-15,-10,-5,0,10],"range":["#6b2008","#b53d1e","#c95a42","#ce6a58","#a62f38","#ab3d58","#c46272","#d99aa0","#fddde0","#ffffff","#d9fdf5"]}}}},
{"data":{"name":"contours"},"transform":[{"flatten":["lon","lat"]},{"window":[{"op":"row_number","as":"i"}]}],"mark":{"type":"line","clip":true,"color":"#444","strokeWidth":0.9},"encoding":{"detail":{"field":"id"},"order":{"field":"i"}}},
{"data":{"name":"coast"},"transform":[{"flatten":["lon","lat"]},{"window":[{"op":"row_number","as":"i"}]}],"mark":{"type":"line","clip":true,"color":"#999","strokeWidth":0.9},"encoding":{"detail":{"field":"id"},"order":{"field":"i"}}}
]}
]},
{"spacing":0,"bounds":"flush","hconcat":[
{"width":77,"height":425,"data":{"values":[{"a":0}]},"mark":{"type":"rect","opacity":0},"encoding":{},"view":{"stroke":null}},
{"width":350,"height":350,"encoding":{"x":{"field":"lon","type":"quantitative","scale":{"domain":[0.178,3.248],"nice":false,"zero":false},"axis":{"values":[0.5,1,1.5,2,2.5,3],"labelExpr":"datum.value%1==0?datum.value+'°E':floor(datum.value)+'°30\\'E'","title":"20C3M s3","titleX":152.5,"titleY":48,"titleBaseline":"middle","titleAlign":"center"}},"y":{"field":"lat","type":"quantitative","scale":{"domain":[40.509,42.842],"nice":false,"zero":false},"axis":{"values":[41,41.5,42,42.5],"labelExpr":"datum.value%1==0?datum.value+'°N':floor(datum.value)+'°30\\'N'","title":null}}},"layer":[
{"data":{"name":"land"},"transform":[{"flatten":["lon"]}],"mark":{"type":"rect","width":14,"height":14,"clip":true,"color":"#e9f6fc"}},
{"data":{"name":"s3"},"transform":[{"flatten":["lon","v"]}],"mark":{"type":"rect","width":14,"height":14,"clip":true},"encoding":{"color":{"field":"v","type":"ordinal","scale":{"domain":[-50,0,50,100,150,200,250,300,350,400,450,500,550,600,650,700,750,800,850,900,950,1000,1050,1100,1150,1200,1250,1300,1350,1400,1450,1500],"range":["#eff9fd","#e9f6fc","#e4f4fb","#def2fa","#d9f0f9","#d2eefa","#ccebf9","#c4e9f9","#bde7f8","#b4e3f7","#a9dff6","#9fdbf5","#95d5f2","#88cdee","#7cc5ea","#71bce6","#68b3e0","#5faada","#55a0d4","#4c96cd","#448cc6","#3d82c0","#3678b9","#2f6db2","#2b63ab","#2758a1","#244f98","#22478e","#203f84","#1e387a","#1c3170","#1b2a63"]}}}},
{"data":{"name":"contours"},"transform":[{"flatten":["lon","lat"]},{"window":[{"op":"row_number","as":"i"}]}],"mark":{"type":"line","clip":true,"color":"#444","strokeWidth":0.9},"encoding":{"detail":{"field":"id"},"order":{"field":"i"}}},
{"data":{"name":"coast"},"transform":[{"flatten":["lon","lat"]},{"window":[{"op":"row_number","as":"i"}]}],"mark":{"type":"line","clip":true,"color":"#999","strokeWidth":0.9},"encoding":{"detail":{"field":"id"},"order":{"field":"i"}}}
]},
{"width":130,"height":1,"data":{"values":[{"a":0}]},"mark":{"type":"rect","opacity":0},"encoding":{},"view":{"stroke":null}},
{"width":350,"height":350,"encoding":{"x":{"field":"lon","type":"quantitative","scale":{"domain":[0.178,3.248],"nice":false,"zero":false},"axis":{"values":[0.5,1,1.5,2,2.5,3],"labelExpr":"datum.value%1==0?datum.value+'°E':floor(datum.value)+'°30\\'E'","title":"A2s3","titleX":155.5,"titleY":48,"titleBaseline":"middle","titleAlign":"center"}},"y":{"field":"lat","type":"quantitative","scale":{"domain":[40.509,42.842],"nice":false,"zero":false},"axis":{"values":[41,41.5,42,42.5],"labelExpr":"datum.value%1==0?datum.value+'°N':floor(datum.value)+'°30\\'N'","title":null}}},"layer":[
{"data":{"name":"a2s3"},"transform":[{"flatten":["lon"]}],"mark":{"type":"rect","width":14,"height":14,"clip":true},"encoding":{"fill":{"field":"v","type":"ordinal","scale":{"domain":[-50,-45,-40,-35,-30,-22.5,-15,-10,-5,0,10],"range":["#6b2008","#b53d1e","#c95a42","#ce6a58","#a62f38","#ab3d58","#c46272","#d99aa0","#fddde0","#ffffff","#d9fdf5"]}}}},
{"data":{"name":"contours"},"transform":[{"flatten":["lon","lat"]},{"window":[{"op":"row_number","as":"i"}]}],"mark":{"type":"line","clip":true,"color":"#444","strokeWidth":0.9},"encoding":{"detail":{"field":"id"},"order":{"field":"i"}}},
{"data":{"name":"coast"},"transform":[{"flatten":["lon","lat"]},{"window":[{"op":"row_number","as":"i"}]}],"mark":{"type":"line","clip":true,"color":"#999","strokeWidth":0.9},"encoding":{"detail":{"field":"id"},"order":{"field":"i"}}}
]},
{"width":127,"height":1,"data":{"values":[{"a":0}]},"mark":{"type":"rect","opacity":0},"encoding":{},"view":{"stroke":null}},
{"width":350,"height":350,"encoding":{"x":{"field":"lon","type":"quantitative","scale":{"domain":[0.178,3.248],"nice":false,"zero":false},"axis":{"values":[0.5,1,1.5,2,2.5,3],"labelExpr":"datum.value%1==0?datum.value+'°E':floor(datum.value)+'°30\\'E'","title":"A1Bs3","titleX":155,"titleY":48,"titleBaseline":"middle","titleAlign":"center"}},"y":{"field":"lat","type":"quantitative","scale":{"domain":[40.509,42.842],"nice":false,"zero":false},"axis":{"values":[41,41.5,42,42.5],"labelExpr":"datum.value%1==0?datum.value+'°N':floor(datum.value)+'°30\\'N'","title":null}}},"layer":[
{"data":{"name":"a1bs3"},"transform":[{"flatten":["lon"]}],"mark":{"type":"rect","width":14,"height":14,"clip":true},"encoding":{"fill":{"field":"v","type":"ordinal","scale":{"domain":[-50,-45,-40,-35,-30,-22.5,-15,-10,-5,0,10],"range":["#6b2008","#b53d1e","#c95a42","#ce6a58","#a62f38","#ab3d58","#c46272","#d99aa0","#fddde0","#ffffff","#d9fdf5"]}}}},
{"data":{"name":"contours"},"transform":[{"flatten":["lon","lat"]},{"window":[{"op":"row_number","as":"i"}]}],"mark":{"type":"line","clip":true,"color":"#444","strokeWidth":0.9},"encoding":{"detail":{"field":"id"},"order":{"field":"i"}}},
{"data":{"name":"coast"},"transform":[{"flatten":["lon","lat"]},{"window":[{"op":"row_number","as":"i"}]}],"mark":{"type":"line","clip":true,"color":"#999","strokeWidth":0.9},"encoding":{"detail":{"field":"id"},"order":{"field":"i"}}}
]},
{"width":123,"height":1,"data":{"values":[{"a":0}]},"mark":{"type":"rect","opacity":0},"encoding":{},"view":{"stroke":null}},
{"width":350,"height":350,"encoding":{"x":{"field":"lon","type":"quantitative","scale":{"domain":[0.178,3.248],"nice":false,"zero":false},"axis":{"values":[0.5,1,1.5,2,2.5,3],"labelExpr":"datum.value%1==0?datum.value+'°E':floor(datum.value)+'°30\\'E'","title":"B1s3","titleX":159,"titleY":51,"titleBaseline":"middle","titleAlign":"center"}},"y":{"field":"lat","type":"quantitative","scale":{"domain":[40.509,42.842],"nice":false,"zero":false},"axis":{"values":[41,41.5,42,42.5],"labelExpr":"datum.value%1==0?datum.value+'°N':floor(datum.value)+'°30\\'N'","title":null}}},"layer":[
{"data":{"name":"b1s3"},"transform":[{"flatten":["lon"]}],"mark":{"type":"rect","width":14,"height":14,"clip":true},"encoding":{"fill":{"field":"v","type":"ordinal","scale":{"domain":[-50,-45,-40,-35,-30,-22.5,-15,-10,-5,0,10],"range":["#6b2008","#b53d1e","#c95a42","#ce6a58","#a62f38","#ab3d58","#c46272","#d99aa0","#fddde0","#ffffff","#d9fdf5"]}}}},
{"data":{"name":"contours"},"transform":[{"flatten":["lon","lat"]},{"window":[{"op":"row_number","as":"i"}]}],"mark":{"type":"line","clip":true,"color":"#444","strokeWidth":0.9},"encoding":{"detail":{"field":"id"},"order":{"field":"i"}}},
{"data":{"name":"coast"},"transform":[{"flatten":["lon","lat"]},{"window":[{"op":"row_number","as":"i"}]}],"mark":{"type":"line","clip":true,"color":"#999","strokeWidth":0.9},"encoding":{"detail":{"field":"id"},"order":{"field":"i"}}}
]}
]},
{"spacing":0,"bounds":"flush","hconcat":[
{"width":8,"height":1,"data":{"values":[{"a":0}]},"mark":{"type":"rect","opacity":0},"encoding":{},"view":{"stroke":null}},
{"width":431,"height":16,"view":{"stroke":null},"title":{"text":"Terrain Height Contours: 0 to 2000 by 200","anchor":"end","fontSize":10.3,"fontWeight":"normal","font":"Liberation Sans","color":"#333","offset":8,"dx":4},"data":{"values":[{"v":-50,"e":0},{"v":0,"e":50},{"v":50,"e":100},{"v":100,"e":150},{"v":150,"e":200},{"v":200,"e":250},{"v":250,"e":300},{"v":300,"e":350},{"v":350,"e":400},{"v":400,"e":450},{"v":450,"e":500},{"v":500,"e":550},{"v":550,"e":600},{"v":600,"e":650},{"v":650,"e":700},{"v":700,"e":750},{"v":750,"e":800},{"v":800,"e":850},{"v":850,"e":900},{"v":900,"e":950},{"v":950,"e":1000},{"v":1000,"e":1050},{"v":1050,"e":1100},{"v":1100,"e":1150},{"v":1150,"e":1200},{"v":1200,"e":1250},{"v":1250,"e":1300},{"v":1300,"e":1350},{"v":1350,"e":1400},{"v":1400,"e":1450},{"v":1450,"e":1500},{"v":1500,"e":1550}]},"mark":{"type":"rect","stroke":"#333","strokeWidth":1},"encoding":{"x":{"field":"v","type":"quantitative","scale":{"domain":[-50,1550],"nice":false,"zero":false},"axis":{"values":[0,100,200,300,400,500,600,700,800,900,1000,1100,1200,1300,1400,1500],"format":"d","title":null,"ticks":false,"labelPadding":11,"labelFontSize":9.5,"labelOverlap":false,"labelFlush":false}},"x2":{"field":"e"},"color":{"field":"v","type":"ordinal","scale":{"domain":[-50,0,50,100,150,200,250,300,350,400,450,500,550,600,650,700,750,800,850,900,950,1000,1050,1100,1150,1200,1250,1300,1350,1400,1450,1500],"range":["#eff9fd","#e9f6fc","#e4f4fb","#def2fa","#d9f0f9","#d2eefa","#ccebf9","#c4e9f9","#bde7f8","#b4e3f7","#a9dff6","#9fdbf5","#95d5f2","#88cdee","#7cc5ea","#71bce6","#68b3e0","#5faada","#55a0d4","#4c96cd","#448cc6","#3d82c0","#3678b9","#2f6db2","#2b63ab","#2758a1","#244f98","#22478e","#203f84","#1e387a","#1c3170","#1b2a63"]}}}},
{"width":518,"height":1,"data":{"values":[{"a":0}]},"mark":{"type":"rect","opacity":0},"encoding":{},"view":{"stroke":null}},
{"width":540,"height":19,"view":{"stroke":null},"title":{"text":"Terrain Height Contours: 0 to 2000 by 200","anchor":"end","fontSize":12.8,"fontWeight":"normal","font":"Liberation Sans","color":"#333","offset":12,"dx":4},"data":{"values":[{"lo":-52.5,"hi":-50,"v":-50},{"lo":-50,"hi":-47.5,"v":-50},{"lo":-47.5,"hi":-45,"v":-45},{"lo":-45,"hi":-42.5,"v":-45},{"lo":-42.5,"hi":-40,"v":-40},{"lo":-40,"hi":-37.5,"v":-40},{"lo":-37.5,"hi":-35,"v":-35},{"lo":-35,"hi":-32.5,"v":-35},{"lo":-32.5,"hi":-30,"v":-30},{"lo":-30,"hi":-27.5,"v":-30},{"lo":-27.5,"hi":-25,"v":-30},{"lo":-25,"hi":-22.5,"v":-22.5},{"lo":-22.5,"hi":-20,"v":-22.5},{"lo":-20,"hi":-17.5,"v":-15},{"lo":-17.5,"hi":-15,"v":-15},{"lo":-15,"hi":-12.5,"v":-10},{"lo":-12.5,"hi":-10,"v":-10},{"lo":-10,"hi":-7.5,"v":-10},{"lo":-7.5,"hi":-5,"v":-5},{"lo":-5,"hi":-2.5,"v":-5},{"lo":-2.5,"hi":0,"v":0},{"lo":0,"hi":2.5,"v":0},{"lo":2.5,"hi":5,"v":0},{"lo":5,"hi":7.5,"v":0},{"lo":7.5,"hi":10,"v":10},{"lo":10,"hi":12.5,"v":10}]},"mark":{"type":"rect","stroke":"#444","strokeWidth":1,"yOffset":-7},"encoding":{"x":{"field":"lo","type":"quantitative","scale":{"domain":[-52.5,12.5],"nice":false,"zero":false},"axis":{"values":[-50,-45,-40,-35,-30,-25,-20,-15,-10,-5,0,5,10],"format":"d","title":null,"ticks":false,"labelPadding":8,"labelFontSize":11,"labelOverlap":false,"labelFlush":false}},"x2":{"field":"hi"},"fill":{"field":"v","type":"ordinal","scale":{"domain":[-50,-45,-40,-35,-30,-22.5,-15,-10,-5,0,10],"range":["#6b2008","#b53d1e","#c95a42","#ce6a58","#a62f38","#ab3d58","#c46272","#d99aa0","#fddde0","#ffffff","#d9fdf5"]}}}}
]}
]
}
